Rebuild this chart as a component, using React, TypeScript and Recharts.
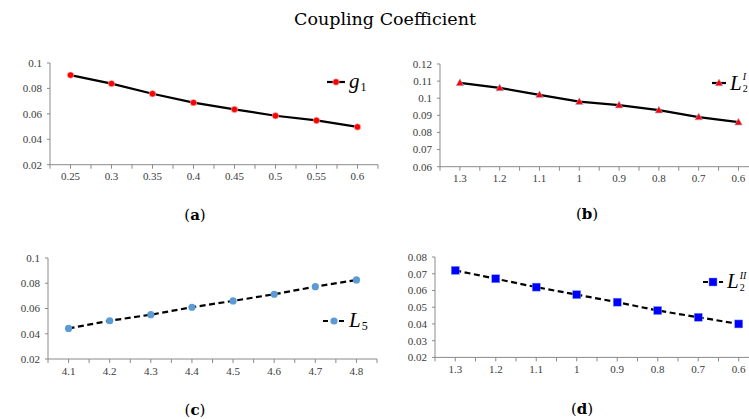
import React from 'react';
import { LineChart, Line, XAxis, YAxis, Legend } from 'recharts';

const catsA = ['0.25', '0.3', '0.35', '0.4', '0.45', '0.5', '0.55', '0.6'];
const valsA = [0.0905, 0.0838, 0.0758, 0.0688, 0.0635, 0.0585, 0.0548, 0.0497];
const ticksA = [0.02, 0.04, 0.06, 0.08, 0.1];

const catsB = ['1.3', '1.2', '1.1', '1', '0.9', '0.8', '0.7', '0.6'];
const valsB = [0.109, 0.106, 0.102, 0.098, 0.096, 0.093, 0.089, 0.086];
const ticksB = [0.06, 0.07, 0.08, 0.09, 0.1, 0.11, 0.12];

const catsC = ['4.1', '4.2', '4.3', '4.4', '4.5', '4.6', '4.7', '4.8'];
const valsC = [0.0442, 0.0503, 0.0551, 0.061, 0.066, 0.0713, 0.0773, 0.0826];
const ticksC = [0.02, 0.04, 0.06, 0.08, 0.1];

const catsD = ['1.3', '1.2', '1.1', '1', '0.9', '0.8', '0.7', '0.6'];
const valsD = [0.072, 0.067, 0.062, 0.0575, 0.053, 0.048, 0.044, 0.04];
const ticksD = [0.02, 0.03, 0.04, 0.05, 0.06, 0.07, 0.08];

const AX = '#8a8a8a';
const LBL = '#3a3a3a';
const TICKFONT = '"Liberation Serif", "Times New Roman", serif';
const ML = 5;
const YW = 40;
const MT = 10;
const XH = 25;
const MR = 2;

const fmt = (v: number) => String(Number(v.toFixed(3)));

type MarkerKind = 'circleRed' | 'triangle' | 'circleBlue' | 'square';

const marker = (kind: MarkerKind, cx: number, cy: number, key?: any) => {
  if (kind === 'circleRed')
    return <circle key={key} cx={cx} cy={cy} r={3.2} fill="#ff0000" stroke="#f4c0c0" strokeWidth={0.6} />;
  if (kind === 'circleBlue')
    return <circle key={key} cx={cx} cy={cy} r={3.6} fill="#5b9bd5" stroke="none" />;
  if (kind === 'triangle')
    return (
      <polygon
        key={key}
        points={`${cx},${cy - 4} ${cx + 3.8},${cy + 2.8} ${cx - 3.8},${cy + 2.8}`}
        fill="#ff0000"
        stroke="#9fb6e8"
        strokeWidth={0.6}
      />
    );
  return <rect key={key} x={cx - 4} y={cy - 4} width={8} height={8} fill="#0000ff" stroke="#7b9cf0" strokeWidth={0.5} />;
};

type PanelProps = {
  cats: string[];
  vals: number[];
  ticks: number[];
  plotLeft: number;
  plotTop: number;
  plotW: number;
  plotH: number;
  dashed: boolean;
  kind: MarkerKind;
  legendX: number;
  legendY: number;
  legendLineW: number;
  legendLabel: React.ReactNode;
};

const YTick = (t: any) => {
  const { x, y, payload } = t;
  return (
    <text
      x={x}
      y={y}
      dy="0.35em"
      textAnchor="end"
      fill={LBL}
      style={{ fontFamily: TICKFONT, fontSize: 11 }}
    >
      {fmt(payload.value)}
    </text>
  );
};

const Panel = (p: PanelProps) => {
  const rows = p.cats.map((c, i) => ({ cat: c, v: p.vals[i] }));
  const chartLeft = p.plotLeft - ML - YW;
  const chartTop = p.plotTop - MT;
  const half = p.plotW / 16;
  const last = p.cats.length - 1;
  const renderXTick = (t: any) => {
    const { x, y, payload, index } = t;
    const ay = y - 8;
    return (
      <g key={`t${index}`}>
        <line x1={x} x2={x} y1={ay} y2={ay + 4} stroke={AX} />
        <line x1={x - half} x2={x - half} y1={ay} y2={ay + 4} stroke={AX} />
        {index === last ? <line x1={x + half} x2={x + half} y1={ay} y2={ay + 4} stroke={AX} /> : null}
        <text
          x={x}
          y={y}
          dy="0.71em"
          textAnchor="middle"
          fill={LBL}
          style={{ fontFamily: TICKFONT, fontSize: 11 }}
        >
          {payload.value}
        </text>
      </g>
    );
  };
  const legendContent = () => (
    <div style={{ display: 'flex', alignItems: 'center', height: 24, whiteSpace: 'nowrap' }}>
      <svg width={p.legendLineW} height={24} style={{ display: 'block' }}>
        <line
          x1={0}
          x2={p.legendLineW}
          y1={12}
          y2={12}
          stroke="#000"
          strokeWidth={2.2}
          strokeDasharray={p.dashed ? '5 3' : undefined}
        />
        {marker(p.kind, p.legendLineW / 2, 12)}
      </svg>
      <div style={{ marginLeft: 4 }}>{p.legendLabel}</div>
    </div>
  );
  return (
    <div style={{ position: 'absolute', left: chartLeft, top: chartTop }}>
      <LineChart
        width={p.plotW + ML + YW + MR}
        height={p.plotH + MT + XH}
        data={rows}
        margin={{ top: MT, right: MR, left: ML, bottom: 0 }}
      >
        <XAxis
          dataKey="cat"
          height={XH}
          padding={{ left: half, right: half }}
          axisLine={{ stroke: AX }}
          tickLine={false}
          tickSize={4}
          tickMargin={4}
          interval={0}
          tick={renderXTick}
        />
        <XAxis
          xAxisId="top"
          orientation="top"
          dataKey="cat"
          height={0}
          tick={false}
          tickLine={false}
          axisLine={{ stroke: AX }}
        />
        <YAxis
          domain={[p.ticks[0], p.ticks[p.ticks.length - 1]]}
          ticks={p.ticks}
          width={YW}
          interval={0}
          allowDataOverflow
          axisLine={{ stroke: AX }}
          tickLine={{ stroke: AX }}
          tickSize={3}
          tickMargin={5}
          tick={YTick}
        />
        <YAxis
          yAxisId="right"
          orientation="right"
          width={0}
          tick={false}
          tickLine={false}
          axisLine={{ stroke: AX }}
        />
        <Legend
          layout="horizontal"
          verticalAlign="middle"
          align="center"
          wrapperStyle={{
            left: p.legendX - chartLeft,
            top: p.legendY - chartTop - 12,
            width: 'auto',
            height: 24,
          }}
          content={legendContent}
        />
        <Line
          dataKey="v"
          name="series"
          stroke="#000"
          strokeWidth={2.2}
          strokeDasharray={p.dashed ? '6 3.5' : undefined}
          isAnimationActive={false}
          dot={(d: any) => marker(p.kind, d.cx, d.cy, `d${d.index}`)}
          activeDot={false}
        />
      </LineChart>
    </div>
  );
};

const LEGFONT = '"Liberation Serif", "Times New Roman", serif';

const Sym = ({ base, sub, sup }: { base: string; sub: string; sup?: string }) => (
  <span style={{ fontFamily: LEGFONT, fontSize: 21, color: '#000', display: 'inline-flex', alignItems: 'center' }}>
    <span style={{ fontStyle: 'italic' }}>{base}</span>
    <span
      style={{
        display: 'inline-flex',
        flexDirection: 'column',
        fontSize: 10,
        lineHeight: '12px',
        marginLeft: 1,
        marginTop: sup ? 0 : 10,
      }}
    >
      {sup ? <span style={{ fontStyle: 'italic' }}>{sup}</span> : null}
      <span style={{ fontStyle: 'normal', fontSize: sup ? 10 : 12 }}>{sub}</span>
    </span>
  </span>
);

const Caption = ({ x, y, letter }: { x: number; y: number; letter: string }) => (
  <div
    style={{
      position: 'absolute',
      left: x - 30,
      top: y - 10,
      width: 60,
      textAlign: 'center',
      fontFamily: '"DejaVu Serif", serif',
      fontSize: 15,
      lineHeight: '20px',
      color: '#000',
    }}
  >
    (<b>{letter}</b>)
  </div>
);

export default function App() {
  return (
    <div
      style={{
        position: 'absolute',
        left: 0,
        top: 0,
        width: 749,
        height: 419,
        overflow: 'hidden',
        background: '#fff',
      }}
    >
      <div
        style={{
          position: 'absolute',
          left: 0,
          top: 7,
          width: 770,
          textAlign: 'center',
          fontFamily: '"DejaVu Serif", serif',
          fontSize: 17.5,
          lineHeight: '24px',
          color: '#000',
        }}
      >
        Coupling Coefficient
      </div>
      <Panel
        cats={catsA}
        vals={valsA}
        ticks={ticksA}
        plotLeft={50}
        plotTop={63.3}
        plotW={328}
        plotH={101.7}
        dashed={false}
        kind="circleRed"
        legendX={327}
        legendY={82}
        legendLineW={18}
        legendLabel={<Sym base="g" sub="1" />}
      />
      <Panel
        cats={catsB}
        vals={valsB}
        ticks={ticksB}
        plotLeft={440}
        plotTop={64}
        plotW={318.4}
        plotH={102.7}
        dashed={false}
        kind="triangle"
        legendX={712}
        legendY={83}
        legendLineW={14}
        legendLabel={<Sym base="L" sub="2" sup="I" />}
      />
      <Panel
        cats={catsC}
        vals={valsC}
        ticks={ticksC}
        plotLeft={47.5}
        plotTop={258.3}
        plotW={329}
        plotH={101}
        dashed={true}
        kind="circleBlue"
        legendX={323}
        legendY={321}
        legendLineW={22}
        legendLabel={<Sym base="L" sub="5" />}
      />
      <Panel
        cats={catsD}
        vals={valsD}
        ticks={ticksD}
        plotLeft={435}
        plotTop={257.3}
        plotW={324}
        plotH={100.4}
        dashed={true}
        kind="square"
        legendX={703}
        legendY={282}
        legendLineW={20}
        legendLabel={<Sym base="L" sub="2" sup="II" />}
      />
      <Caption x={195} y={215} letter="a" />
      <Caption x={587} y={214} letter="b" />
      <Caption x={195} y={410} letter="c" />
      <Caption x={582} y={409} letter="d" />
    </div>
  );
}
